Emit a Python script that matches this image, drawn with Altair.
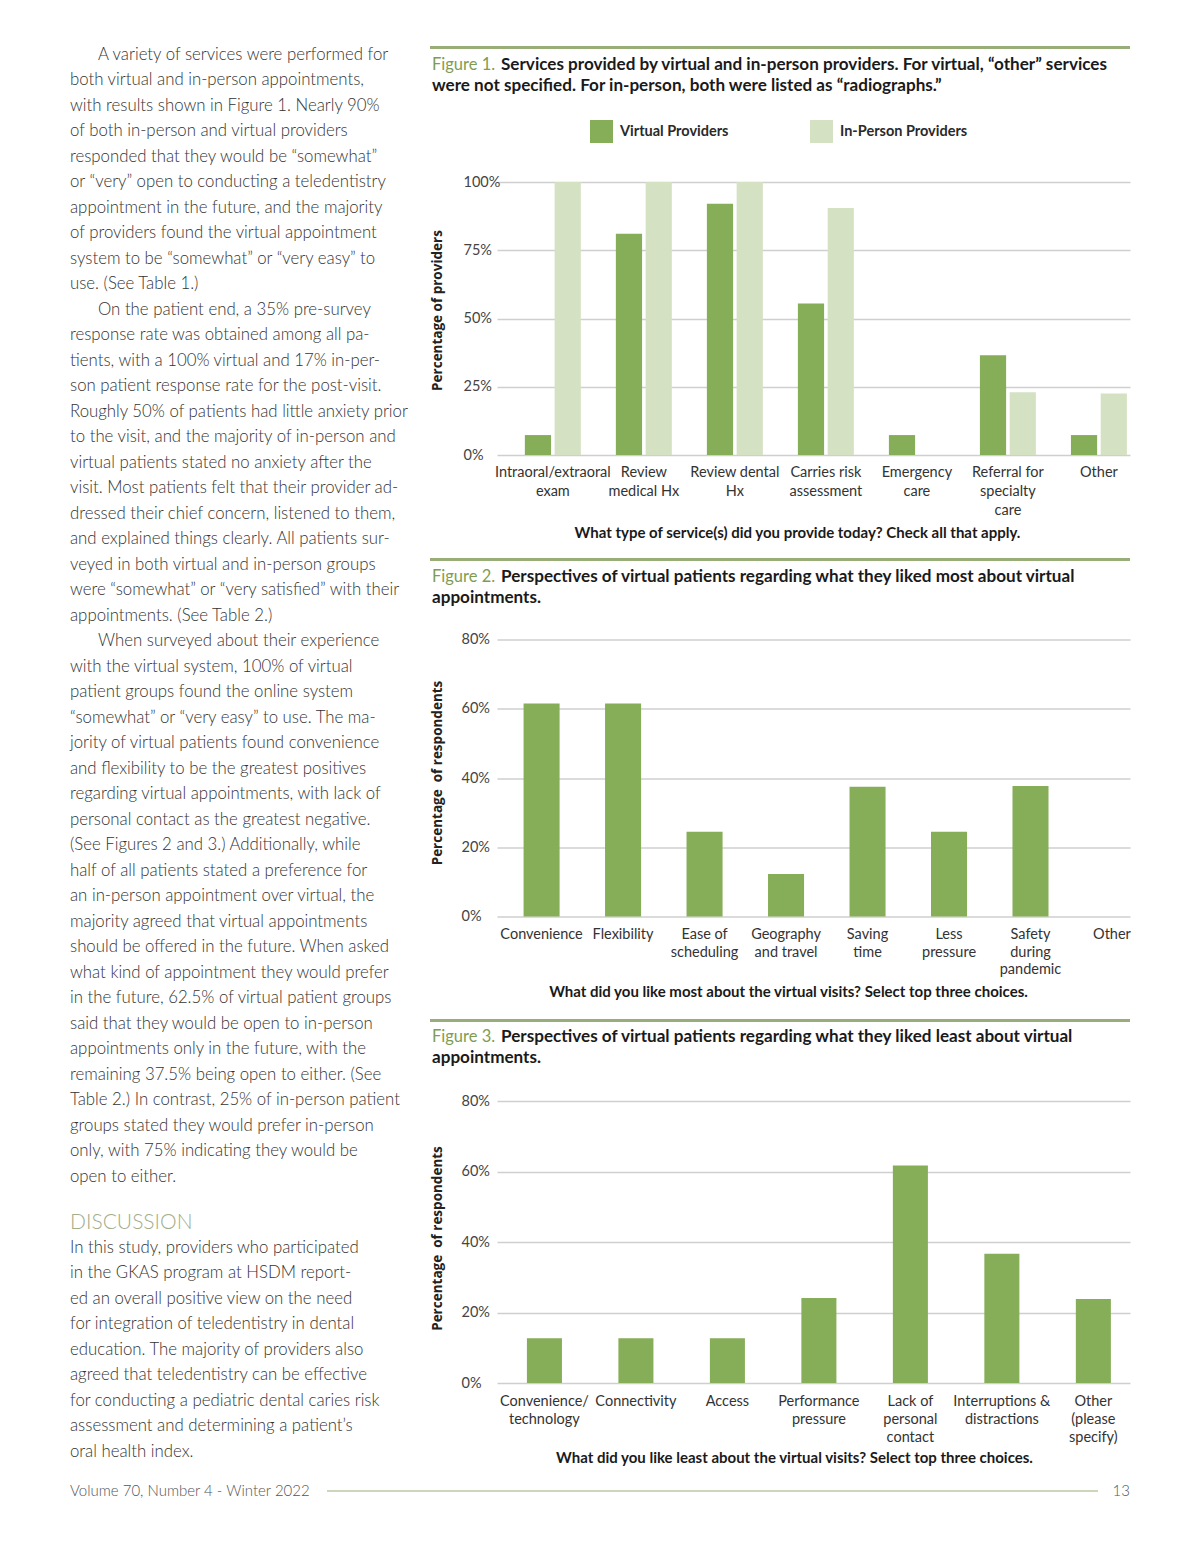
import altair as alt
import pandas as pd

# ---------------- data ----------------
fig1_categories = ["Intraoral/extraoral\nexam", "Review\nmedical Hx", "Review dental\nHx",
                   "Carries risk\nassessment", "Emergency\ncare", "Referral for\nspecialty\ncare", "Other"]
fig1_groups = ["Virtual Providers", "In-Person Providers"]
fig1_virtual = [7.3, 81, 92, 55.5, 7.3, 36.5, 7.3]
fig1_inperson = [100, 100, 100, 90.5, 0, 23, 22.5]
fig1_ticks = [0, 25, 50, 75, 100]

fig2_categories = ["Convenience", "Flexibility", "Ease of\nscheduling", "Geography\nand travel",
                   "Saving\ntime", "Less\npressure", "Safety\nduring\npandemic", "Other"]
fig2_values = [61.5, 61.5, 24.5, 12.3, 37.5, 24.5, 37.7, 0]
fig2_ticks = [0, 20, 40, 60, 80]

fig3_categories = ["Convenience/\ntechnology", "Connectivity", "Access", "Performance\npressure",
                   "Lack of\npersonal\ncontact", "Interruptions &\ndistractions", "Other\n(please\nspecify)"]
fig3_values = [12.7, 12.7, 12.7, 24.1, 61.7, 36.7, 23.8]
fig3_ticks = [0, 20, 40, 60, 80]

fig1_caption = ["Figure 1.", "Services provided by virtual and in-person providers. For virtual, \u201cother\u201d services",
                "were not specified. For in-person, both were listed as \u201cradiographs.\u201d"]
fig2_caption = ["Figure 2.", "Perspectives of virtual patients regarding what they liked most about virtual",
                "appointments."]
fig3_caption = ["Figure 3.", "Perspectives of virtual patients regarding what they liked least about virtual",
                "appointments."]
fig1_xtitle = "What type of service(s) did you provide today? Check all that apply."
fig2_xtitle = "What did you like most about the virtual visits? Select top three choices."
fig3_xtitle = "What did you like least about the virtual visits? Select top three choices."
fig1_ytitle = "Percentage of providers"
fig23_ytitle = "Percentage\u00a0 of respondents"

para1 = [
    "A variety of services were performed for",
    "both virtual and in-person appointments,",
    "with results shown in Figure 1. Nearly 90%",
    "of both in-person and virtual providers",
    "responded that they would be \u201csomewhat\u201d",
    "or \u201cvery\u201d open to conducting a teledentistry",
    "appointment in the future, and the majority",
    "of providers found the virtual appointment",
    "system to be \u201csomewhat\u201d or \u201cvery easy\u201d to",
    "use. (See Table 1.)",
]
para2 = [
    "On the patient end, a 35% pre-survey",
    "response rate was obtained among all pa-",
    "tients, with a 100% virtual and 17% in-per-",
    "son patient response rate for the post-visit.",
    "Roughly 50% of patients had little anxiety prior",
    "to the visit, and the majority of in-person and",
    "virtual patients stated no anxiety after the",
    "visit. Most patients felt that their provider ad-",
    "dressed their chief concern, listened to them,",
    "and explained things clearly. All patients sur-",
    "veyed in both virtual and in-person groups",
    "were \u201csomewhat\u201d or \u201cvery satisfied\u201d with their",
    "appointments. (See Table 2.)",
]
para3 = [
    "When surveyed about their experience",
    "with the virtual system, 100% of virtual",
    "patient groups found the online system",
    "\u201csomewhat\u201d or \u201cvery easy\u201d to use. The ma-",
    "jority of virtual patients found convenience",
    "and flexibility to be the greatest positives",
    "regarding virtual appointments, with lack of",
    "personal contact as the greatest negative.",
    "(See Figures 2 and 3.) Additionally, while",
    "half of all patients stated a preference for",
    "an in-person appointment over virtual, the",
    "majority agreed that virtual appointments",
    "should be offered in the future. When asked",
    "what kind of appointment they would prefer",
    "in the future, 62.5% of virtual patient groups",
    "said that they would be open to in-person",
    "appointments only in the future, with the",
    "remaining 37.5% being open to either. (See",
    "Table 2.) In contrast, 25% of in-person patient",
    "groups stated they would prefer in-person",
    "only, with 75% indicating they would be",
    "open to either.",
]
discussion_heading = "DISCUSSION"
discussion_lines = [
    "In this study, providers who participated",
    "in the GKAS program at HSDM report-",
    "ed an overall positive view on the need",
    "for integration of teledentistry in dental",
    "education. The majority of providers also",
    "agreed that teledentistry can be effective",
    "for conducting a pediatric dental caries risk",
    "assessment and determining a patient\u2019s",
    "oral health index.",
]
footer_left = "Volume 70, Number 4 - Winter 2022"
page_number = "13"

# ---------------- style ----------------
GREEN = "#86ad57"
LIGHT = "#d5e1c3"
OLIVE = "#98ad78"
CAP_GREEN = "#7f9c52"
HEAD_GREEN = "#a4ad8a"
GRID = "#cfcfcf"
BODY = "#333333"
SANS = "Lato, 'Open Sans', sans-serif"
WIDE = "'Open Sans', 'Noto Sans', sans-serif"

W = 633
H1, H2, H3 = 273, 277, 282
GAP = 184.5
LH = 25.5


def one_row():
    return pd.DataFrame({"t": [""]})


def text_layer(txt, x, y, size, color, weight="normal", font=SANS, align="left", line_height=None):
    kw = dict(align=align, baseline="alphabetic", font=font, fontSize=size,
              fontWeight=weight, color=color)
    if line_height:
        kw.update(lineBreak="\n", lineHeight=line_height)
    return alt.Chart(pd.DataFrame({"t": [txt]})).mark_text(**kw).encode(
        text="t:N", x=alt.value(x), y=alt.value(y))


def hrule(x1, x2, y, color, width):
    return alt.Chart(one_row()).mark_rule(color=color, strokeWidth=width).encode(
        x=alt.value(x1), x2=alt.value(x2), y=alt.value(y))


def caption_layers(cap, y_rule, y1, y2):
    return [
        hrule(-67, W, y_rule, OLIVE, 3),
        text_layer(cap[0], -65, y1, 16.5, CAP_GREEN),
        text_layer(cap[1], 4, y1, 17.1, "#1a1a1a", weight="bold"),
        text_layer(cap[2], -65, y2, 17.1, "#1a1a1a", weight="bold"),
    ]


def x_axis(title, title_x, title_y, line_h, pad):
    return alt.Axis(title=title, titleFont=SANS, titleFontSize=15, titleFontWeight="bold",
                    titleColor="#1a1a1a", titleX=title_x, titleY=title_y, titleBaseline="middle",
                    labelExpr="split(datum.label, '\\n')", labelAngle=0, labelFont=SANS,
                    labelFontSize=14.5, labelColor="#333333", labelLineHeight=line_h,
                    labelPadding=pad, labelOverlap=False, labelLimit=250,
                    domain=False, ticks=False, grid=False)


def y_axis(title, ticks, title_y, label_pad):
    return alt.Axis(values=ticks, labelExpr="datum.value + '%'", title=title, titleFont=WIDE,
                    titleFontSize=13.5, titleFontWeight="bold", titleColor="#222222",
                    titleX=-60, titleY=title_y, titleBaseline="middle",
                    domain=False, ticks=False, grid=True, gridColor=GRID, gridWidth=1.5,
                    labelAlign="left", labelPadding=label_pad, labelFont=SANS, labelFontSize=14.5,
                    labelColor="#444444", labelBaseline="middle")


# ---------------- figure 1 ----------------
df1 = pd.DataFrame({
    "category": fig1_categories * 2,
    "group": [fig1_groups[0]] * len(fig1_categories) + [fig1_groups[1]] * len(fig1_categories),
    "value": fig1_virtual + fig1_inperson,
})

bars1 = alt.Chart(df1).mark_bar().encode(
    x=alt.X("category:N", sort=fig1_categories,
            scale=alt.Scale(paddingInner=0.385, paddingOuter=0.17, align=0.9),
            axis=x_axis(fig1_xtitle, 300, 77, 19, 10)),
    xOffset=alt.XOffset("group:N", sort=fig1_groups, scale=alt.Scale(paddingInner=0.12, paddingOuter=0)),
    y=alt.Y("value:Q", scale=alt.Scale(domain=[0, 100], nice=False),
            axis=y_axis(fig1_ytitle, fig1_ticks, 128, 34)),
    color=alt.Color("group:N", sort=fig1_groups,
                    scale=alt.Scale(domain=fig1_groups, range=[GREEN, LIGHT]),
                    legend=alt.Legend(orient="none", legendX=93, legendY=-62, direction="horizontal",
                                      title=None, symbolType="square", symbolSize=529,
                                      symbolStrokeWidth=0, labelFont=SANS, labelFontSize=14.5,
                                      labelFontWeight="bold", labelColor="#2a2a2a", labelOffset=7,
                                      columnPadding=81, padding=0)),
)

# page anchor (top-left corner of the page)
anchor = alt.Chart(one_row()).mark_rect(color="white", strokeWidth=0).encode(
    x=alt.value(-489), x2=alt.value(-488), y=alt.value(-174), y2=alt.value(-173))

# left column text: each paragraph = indented first line + block of remaining lines
TEXT_X, INDENT_X, TOP_Y = -427, -399, -122.5
left_layers = []
row = 0
for para in (para1, para2, para3):
    y0 = TOP_Y + row * LH
    left_layers.append(text_layer(para[0], INDENT_X, y0, 16.8, BODY, weight=300))
    left_layers.append(text_layer("\n".join(para[1:]), TEXT_X, y0 + LH, 16.8, BODY,
                                  weight=300, line_height=LH))
    row += len(para)

left_layers += [
    text_layer(discussion_heading, TEXT_X, 1046.5, 21, HEAD_GREEN, weight=300),
    text_layer("\n".join(discussion_lines), TEXT_X, 1070.5, 16.8, BODY, weight=300, line_height=LH),
    text_layer(footer_left, TEXT_X, 1313.5, 15, "#555555", weight=300),
    hrule(-170, 601, 1309, OLIVE, 1.2),
    text_layer(page_number, W, 1313.5, 15, "#555555", weight=300, align="right"),
]

fig1 = alt.layer(bars1, anchor, *caption_layers(fig1_caption, -134.5, -112, -91),
                 *left_layers).properties(width=W, height=H1)

# ---------------- figure 2 ----------------
df2 = pd.DataFrame({"category": fig2_categories, "value": fig2_values})
bars2 = alt.Chart(df2).mark_bar(color=GREEN).encode(
    x=alt.X("category:N", sort=fig2_categories,
            scale=alt.Scale(paddingInner=0.558, paddingOuter=0.163, align=1),
            axis=x_axis(fig2_xtitle, 291, 75, 17.5, 11)),
    y=alt.Y("value:Q", scale=alt.Scale(domain=[0, 80], nice=False),
            axis=y_axis(fig23_ytitle, fig2_ticks, 133, 36)),
)
fig2 = alt.layer(bars2, *caption_layers(fig2_caption, -80, -57.5, -36.5)).properties(width=W, height=H2)

# ---------------- figure 3 ----------------
df3 = pd.DataFrame({"category": fig3_categories, "value": fig3_values})
bars3 = alt.Chart(df3).mark_bar(color=GREEN).encode(
    x=alt.X("category:N", sort=fig3_categories,
            scale=alt.Scale(paddingInner=0.617, paddingOuter=0.268, align=0.61),
            axis=x_axis(fig3_xtitle, 297, 74, 18, 11)),
    y=alt.Y("value:Q", scale=alt.Scale(domain=[0, 80], nice=False),
            axis=y_axis(fig23_ytitle, fig3_ticks, 137, 36)),
)
fig3 = alt.layer(bars3, *caption_layers(fig3_caption, -80.5, -59, -38)).properties(width=W, height=H3)

chart = alt.vconcat(fig1, fig2, fig3, spacing=GAP, bounds="flush").properties(
    padding=0, background="white").configure_view(stroke=None)

chart.save("out.html", embed_options={"renderer": "svg", "actions": False})
